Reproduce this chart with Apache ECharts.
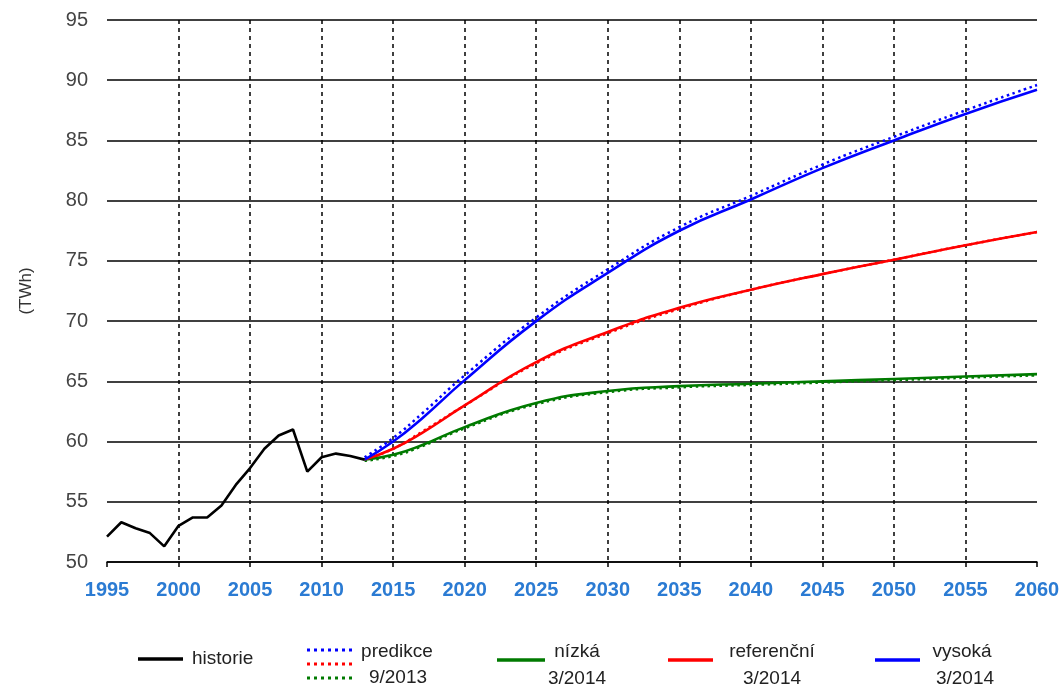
<!DOCTYPE html>
<html>
<head>
<meta charset="utf-8">
<script src="https://cdn.jsdelivr.net/npm/echarts@6/dist/echarts.min.js"></script>
<style>
html,body{margin:0;padding:0;background:#fff;}
#chart{width:1064px;height:690px;}
</style>
</head>
<body>
<div id="chart"></div>
<script>
// ---- data ----
const historyYears = [1995,1996,1997,1998,1999,2000,2001,2002,2003,2004,2005,2006,2007,2008,2009,2010,2011,2012,2013];
const historyValues = [52.1,53.3,52.8,52.4,51.3,53.0,53.7,53.7,54.7,56.4,57.8,59.4,60.5,61.0,57.5,58.7,59.0,58.8,58.5];

const forecastYears = [2013,2015,2017,2020,2025,2030,2035,2040,2045,2050,2055,2060];
const lowValues  = [58.5,58.9,59.7,61.2,63.2,64.2,64.6,64.8,65.0,65.2,65.4,65.6];
const refValues  = [58.5,59.4,60.7,63.0,66.6,69.1,71.1,72.6,73.9,75.1,76.3,77.4];
const highValues = [58.5,60.0,61.9,65.1,70.0,74.0,77.5,80.1,82.7,85.0,87.2,89.2];

const predLowValues  = [58.4,58.8,59.6,61.1,63.1,64.1,64.5,64.7,64.9,65.1,65.3,65.5];
const predRefValues  = [58.5,59.4,60.8,63.0,66.5,69.0,71.0,72.6,73.9,75.1,76.3,77.4];
const predHighValues = [58.7,60.3,62.3,65.5,70.3,74.3,77.8,80.4,83.0,85.3,87.5,89.6];

const xTickMin = 1995, xTickMax = 2060, xTickStep = 5;
const yTickMin = 50, yTickMax = 95, yTickStep = 5;
const yAxisName = '(TWh)';

const legendLabels = {
  hist: 'historie',
  pred: ['predikce', '9/2013'],
  low: ['nízká', '3/2014'],
  ref: ['referenční', '3/2014'],
  high: ['vysoká', '3/2014']
};

// ---- build ----
const pair = (xs, ys) => xs.map((x, i) => [x, ys[i]]);
const BLUE = '#0000ff', RED = '#ff0000', GREEN = '#007a00', BLACK = '#000000';
const FONT = '"Liberation Sans", Arial, sans-serif';

const nSplit = (xTickMax - xTickMin) / xTickStep; // 13
const vColors = ['rgba(0,0,0,0)'];
for (let i = 1; i < nSplit; i++) vColors.push('#000');

function lineSeries(name, data, color, dotted, z) {
  return {
    name, type: 'line', data, showSymbol: false, symbol: 'none',
    smooth: 0.5, z,
    lineStyle: dotted
      ? { color, width: 2.5, type: [2.5, 3.5] }
      : { color, width: 2.6 },
    emphasis: { disabled: true }
  };
}

const txt = { fontFamily: FONT, fontSize: 19, fill: '#222' };
function t(text, x, y, align) {
  return { type: 'text', x, y, style: Object.assign({ text, textAlign: align || 'center', textVerticalAlign: 'middle' }, txt) };
}
function seg(x1, x2, y, color, dotted) {
  return { type: 'line', shape: { x1, y1: y, x2, y2: y },
    style: { stroke: color, lineWidth: dotted ? 3 : 3.5, lineDash: dotted ? [3, 4] : null } };
}

const graphics = [
  seg(138, 183, 659, BLACK), t(legendLabels.hist, 192, 659, 'left'),
  seg(307, 352, 650, BLUE, true), seg(307, 352, 664, RED, true), seg(307, 352, 678, GREEN, true),
  t(legendLabels.pred[0], 397, 652), t(legendLabels.pred[1], 398, 678),
  seg(497, 545, 660, GREEN), t(legendLabels.low[0], 577, 652), t(legendLabels.low[1], 577, 679),
  seg(668, 713, 660, RED), t(legendLabels.ref[0], 772, 652), t(legendLabels.ref[1], 772, 679),
  seg(875, 920, 660, BLUE), t(legendLabels.high[0], 962, 652), t(legendLabels.high[1], 965, 679)
];

const chart = echarts.init(document.getElementById('chart'), null, { renderer: 'canvas' });
chart.setOption({
  animation: false,
  backgroundColor: '#fff',
  grid: { left: 107, right: 27, top: 20, bottom: 128, containLabel: false },
  xAxis: {
    type: 'value', min: xTickMin, max: xTickMax, interval: xTickStep,
    axisLine: { show: true, lineStyle: { color: '#000', width: 1.5 } },
    axisTick: { show: true, inside: false, length: 5, lineStyle: { color: '#000', width: 1.5 } },
    axisLabel: { color: '#2B7BD3', fontFamily: FONT, fontSize: 20, fontWeight: 'bold', margin: 18, formatter: v => String(v) },
    splitLine: { show: true, lineStyle: { color: vColors, width: 1.5, type: [4, 4] } }
  },
  yAxis: {
    type: 'value', min: yTickMin, max: yTickMax, interval: yTickStep,
    name: yAxisName, nameLocation: 'middle', nameGap: 72, nameRotate: 90,
    nameTextStyle: { color: '#333', fontFamily: FONT, fontSize: 17 },
    axisLine: { show: false },
    axisTick: { show: false },
    axisLabel: { color: '#444', fontFamily: FONT, fontSize: 20, margin: 19 },
    splitLine: { show: true, lineStyle: { color: '#000', width: 1.5 } }
  },
  series: [
    lineSeries('predikce 9/2013 (nízká)', pair(forecastYears, predLowValues), GREEN, true, 2),
    lineSeries('predikce 9/2013 (referenční)', pair(forecastYears, predRefValues), RED, true, 2),
    lineSeries('predikce 9/2013 (vysoká)', pair(forecastYears, predHighValues), BLUE, true, 2),
    lineSeries('nízká 3/2014', pair(forecastYears, lowValues), GREEN, false, 3),
    lineSeries('referenční 3/2014', pair(forecastYears, refValues), RED, false, 3),
    lineSeries('vysoká 3/2014', pair(forecastYears, highValues), BLUE, false, 3),
    Object.assign(lineSeries('historie', pair(historyYears, historyValues), BLACK, false, 4), { smooth: false })
  ],
  graphic: graphics
});
</script>
</body>
</html>
